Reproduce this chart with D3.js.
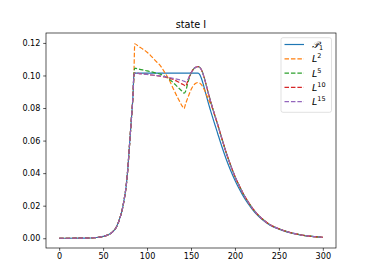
<!DOCTYPE html>
<html><head><meta charset="utf-8">
<script src="https://cdn.jsdelivr.net/npm/d3@7"></script>
<style>body{margin:0;background:#fff}svg{display:block}text{font-family:"DejaVu Sans",sans-serif}</style>
</head><body><svg id="c" width="374" height="280"></svg>
<script>
const title = "state I";
const xs = [0,10,20,30,40,45,50,55,60,65,70,72,74,76,78,80,82,84,85,86,90,95,100,105,110,115,120,125,130,135,140,142,144,146,148,150,152,154,156,158,160,162,164,166,168,170,172,174,176,178,180,185,190,195,200,205,210,215,220,225,230,240,250,260,270,280,290,300];
const rise = [0,0,0.00002,0.0001,0.0003,0.0006,0.0011,0.0019,0.0035,0.0068,0.014,0.0182,0.024,0.031,0.042,0.057,0.072,0.088,0.1];
const tailP = [0.1015,0.1015,0.1015,0.1015,0.1015,0.1015,0.1015,0.1015,0.1015,0.1015,0.1015,0.1015,0.1015,0.1015,0.1015,0.1015,0.1015,0.1015,0.1015,0.1015,0.1015,0.1005,0.098,0.0945,0.0905,0.0865,0.0826,0.0789,0.0753,0.0718,0.0684,0.065,0.0565,0.0487,0.0418,0.0357,0.0302,0.0253,0.0212,0.0176,0.0145,0.0119,0.008,0.0056,0.0038,0.0025,0.0016,0.001,0.0006];
const tailPeak = [0.1052,0.1055,0.105,0.1033,0.1005,0.0968,0.0927,0.0886,0.0847,0.081,0.0774,0.0739,0.0705,0.0615,0.0527,0.045,0.038,0.0322,0.0268,0.0224,0.0184,0.0151,0.0124,0.0083,0.0058,0.0039,0.0026,0.0016,0.001,0.0006];
const p1 = rise.concat(tailP);
const l2 = rise.concat([0.1195,0.118,0.1162,0.1143,0.1117,0.1088,0.1061,0.102,0.0975,0.0917,0.0862,0.0812,0.0796,0.0828,0.0858,0.0886,0.0912,0.0932,0.0946,0.0954,0.0957,0.0953,0.0942,0.0925,0.0903,0.0877,0.0852,0.0828,0.0803,0.0772,0.0738,0.0704,0.0613,0.0526,0.0449,0.0379,0.0321,0.0268,0.0224,0.0184,0.0151,0.0124,0.0083,0.0058,0.0039,0.0026,0.0016,0.001,0.0006]);
const l5 = rise.concat([0.1045,0.104,0.1034,0.1028,0.1022,0.1015,0.1008,0.0995,0.0978,0.0955,0.0928,0.0902,0.0891,0.0905,0.0945,0.0984,0.1013,0.1033,0.1046]).concat(tailPeak);
const l10 = rise.concat([0.1015,0.1013,0.101,0.1007,0.1003,0.1,0.0996,0.0991,0.0984,0.0975,0.0962,0.0947,0.0941,0.0935,0.0962,0.099,0.1015,0.1033,0.1046]).concat(tailPeak);
const l15 = rise.concat([0.1015,0.1012,0.1009,0.1006,0.1003,0.1,0.0997,0.0993,0.0988,0.0982,0.0976,0.0969,0.0965,0.0961,0.0971,0.0993,0.1015,0.1033,0.1046]).concat(tailPeak);
const xTicks = [0,50,100,150,200,250,300];
const yTicks = [0,0.02,0.04,0.06,0.08,0.10,0.12];
const series = [
  {name:"P", sub:"1", sup:null, vals:p1, color:"#1f77b4", dash:null},
  {name:"L", sub:null, sup:"2", vals:l2, color:"#ff7f0e", dash:"4.5,1.95"},
  {name:"L", sub:null, sup:"5", vals:l5, color:"#2ca02c", dash:"4.5,1.95"},
  {name:"L", sub:null, sup:"10", vals:l10, color:"#d62728", dash:"4.5,1.95"},
  {name:"L", sub:null, sup:"15", vals:l15, color:"#9467bd", dash:"4.5,1.95"}
];

const svg = d3.select("#c");
const L = 46, R = 336, T = 33, B = 248;
const x = d3.scaleLinear().domain([-15,315]).range([L,R]);
const y = d3.scaleLinear().domain([-0.006,0.1261]).range([B,T]);

const g = svg.append("g");
svg.append("clipPath").attr("id","cl").append("rect").attr("x",L).attr("y",T).attr("width",R-L).attr("height",B-T);
const line = d3.line().x((d,i)=>x(xs[i])).y(d=>y(d)).curve(d3.curveMonotoneX);
series.forEach(s=>{
  g.append("path").attr("d", line(s.vals)).attr("fill","none").attr("stroke",s.color)
   .attr("stroke-width",1.2).attr("stroke-dasharray",s.dash).attr("clip-path","url(#cl)");
});

const xa = svg.append("g").attr("transform",`translate(0,${B})`)
  .call(d3.axisBottom(x).tickValues(xTicks).tickSize(2.8).tickPadding(2.8).tickFormat(d3.format("d")));
const ya = svg.append("g").attr("transform",`translate(${L},0)`)
  .call(d3.axisLeft(y).tickValues(yTicks).tickSize(2.8).tickPadding(2.8).tickFormat(d3.format(".2f")));
[xa,ya].forEach(a=>{
  a.select(".domain").remove();
  a.selectAll("line").attr("stroke","#000").attr("stroke-width",0.65);
  a.selectAll("text").attr("font-size","8.1px").attr("fill","#000").attr("font-family","DejaVu Sans");
});
svg.append("rect").attr("x",L).attr("y",T).attr("width",R-L).attr("height",B-T)
  .attr("fill","none").attr("stroke","#000").attr("stroke-width",0.65);

svg.append("text").attr("x",(L+R)/2).attr("y",28).attr("text-anchor","middle")
  .attr("font-size","9.7px").attr("fill","#000").text(title);

// legend
const lg = svg.append("g");
lg.append("rect").attr("x",281).attr("y",37.7).attr("width",50.5).attr("height",74.6).attr("rx",2)
  .attr("fill","#fff").attr("fill-opacity",0.8).attr("stroke","#d0d0d0").attr("stroke-width",0.65);
series.forEach((s,i)=>{
  const yy = 44.5 + i*14.3;
  lg.append("line").attr("x1",284.5).attr("x2",304).attr("y1",yy).attr("y2",yy)
    .attr("stroke",s.color).attr("stroke-width",1.2).attr("stroke-dasharray",s.dash);
  const t = lg.append("text").attr("x",312).attr("y",yy+3.5).attr("font-size","9.5px").attr("fill","#000");
  if (s.sub) {
    t.append("tspan").attr("font-family","DejaVu Serif").attr("font-style","italic").text("𝒫");
    t.append("tspan").attr("dy",2).attr("font-size","6.5px").text(s.sub);
  } else {
    t.append("tspan").attr("font-style","italic").text(s.name);
    t.append("tspan").attr("dy",-4).attr("font-size","6.5px").text(s.sup);
  }
});
</script></body></html>
